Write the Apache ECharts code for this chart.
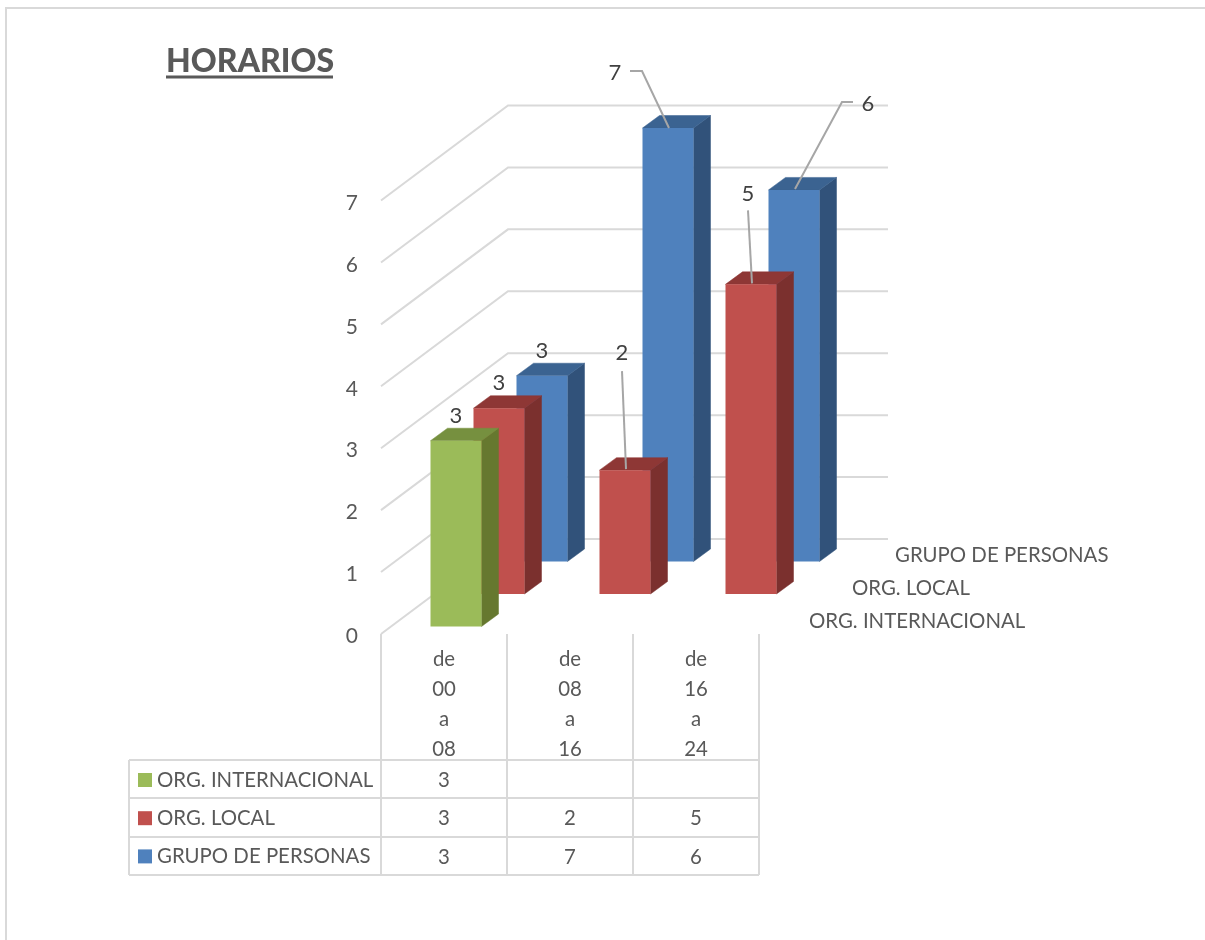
<!DOCTYPE html>
<html>
<head>
<meta charset="utf-8">
<title>HORARIOS</title>
<script src="https://cdn.jsdelivr.net/npm/echarts@6/dist/echarts.min.js"></script>
<style>
  html, body { margin: 0; padding: 0; background: #fff; }
  #main { width: 1205px; height: 940px; }
</style>
</head>
<body>
<div id="main"></div>
<script>
const categories = ['de\n00\na\n08', 'de\n08\na\n16', 'de\n16\na\n24'];
const seriesNames = ['ORG. INTERNACIONAL', 'ORG. LOCAL', 'GRUPO DE PERSONAS'];
const orgInternacional = [3, null, null];
const orgLocal = [3, 2, 5];
const grupoPersonas = [3, 7, 6];
const yTicks = [0, 1, 2, 3, 4, 5, 6, 7];

// colores de cada serie: frente, lateral, tapa
const palette = [
  { front: '#9BBB59', side: '#66782F', top: '#76903F' },
  { front: '#C0504D', side: '#7B302E', top: '#8E3735' },
  { front: '#4F81BD', side: '#31527A', top: '#3B6391' }
];

const FONT = 'Lato, "Open Sans", sans-serif';
const TEXT_SIZE = 20.4;
const GRID = { left: 381, top: 200.5, width: 378, height: 433.5 };
const BAND = GRID.width / categories.length;
// proyeccion 3D: desplazamiento por fila de profundidad
const DEPTH = { x0: 12, y0: -7.5, dx: 43, dy: -32.5 };
const WALL = { dx: 127, dy: -95, right: 888 };
const BOX = { width: 51, dx: 17, dy: -12.5 };

// etiquetas con linea guia, relativas al centro superior de la barra [serie_categoria]
const callouts = {
  '1_1': { label: [-3, -118], line: [[1, -1], [-3, -99]] },
  '1_2': { label: [-3, -91], line: [[1, -1], [-3, -74]] },
  '2_1': { label: [-53, -56], line: [[1, 0], [-26, -57], [-38, -57]] },
  '2_2': { label: [74, -87], line: [[1, -1], [48, -88], [59, -88]] }
};

function renderWall(params, api) {
  const v = api.value(0);
  const p = api.coord([0, v]);
  const x = p[0] - BAND / 2;
  return {
    type: 'polyline',
    silent: true,
    shape: { points: [[x, p[1]], [x + WALL.dx, p[1] + WALL.dy], [WALL.right, p[1] + WALL.dy]] },
    style: { stroke: '#D9D9D9', lineWidth: 2, fill: null }
  };
}

function makeBoxRenderer(depth) {
  const colors = palette[depth];
  return function (params, api) {
    const cat = api.value(0);
    const val = api.value(1);
    const offX = DEPTH.x0 + DEPTH.dx * depth;
    const offY = DEPTH.y0 + DEPTH.dy * depth;
    const top = api.coord([cat, val]);
    const base = api.coord([cat, 0]);
    const cx = top[0] + offX;
    const x0 = cx - BOX.width / 2;
    const x1 = cx + BOX.width / 2;
    const yTop = top[1] + offY;
    const yBase = base[1] + offY;
    const children = [
      { type: 'polygon', shape: { points: [[x1, yTop], [x1 + BOX.dx, yTop + BOX.dy], [x1 + BOX.dx, yBase + BOX.dy], [x1, yBase]] }, style: { fill: colors.side, stroke: colors.side, lineWidth: 0.5 } },
      { type: 'polygon', shape: { points: [[x0, yTop], [x0 + BOX.dx, yTop + BOX.dy], [x1 + BOX.dx, yTop + BOX.dy], [x1, yTop]] }, style: { fill: colors.top, stroke: colors.top, lineWidth: 0.5 } },
      { type: 'rect', shape: { x: x0, y: yTop, width: BOX.width, height: yBase - yTop }, style: { fill: colors.front } }
    ];
    const callout = callouts[depth + '_' + cat];
    const labelOff = callout ? callout.label : [0, -26];
    if (callout) {
      children.push({
        type: 'polyline',
        shape: { points: callout.line.map(function (q) { return [cx + q[0], yTop + q[1]]; }) },
        style: { stroke: '#A6A6A6', lineWidth: 2, fill: null }
      });
    }
    children.push({
      type: 'text',
      style: {
        text: String(val), x: cx + labelOff[0], y: yTop + labelOff[1] + 1,
        align: 'center', verticalAlign: 'middle',
        fill: '#404040', fontSize: 22, fontFamily: FONT
      }
    });
    return { type: 'group', children: children };
  };
}

function toPoints(values) {
  return values.map(function (v, i) { return [i, v]; }).filter(function (d) { return d[1] !== null; });
}

function boxSeries(depth, values) {
  return {
    name: seriesNames[depth],
    type: 'custom',
    renderItem: makeBoxRenderer(depth),
    encode: { x: 0, y: 1 },
    itemStyle: { color: palette[depth].front },
    data: toPoints(values)
  };
}

// tabla de datos y adornos
const tableRows = [orgInternacional, orgLocal, grupoPersonas];
const rowLines = [760, 798, 837, 875];
const colLines = [129, 381, 507, 633, 759];
const rowCenters = [780, 818, 857];
const graphics = [];

function line(x1, y1, x2, y2) {
  graphics.push({
    type: 'line', silent: true,
    shape: { x1: x1, y1: y1, x2: x2, y2: y2 },
    style: { stroke: '#D9D9D9', lineWidth: 2 }
  });
}
function text(str, x, y, align) {
  graphics.push({
    type: 'text', silent: true, x: x, y: y,
    style: { text: str, align: align, verticalAlign: 'middle', fill: '#595959', fontSize: TEXT_SIZE, fontFamily: FONT }
  });
}

line(5, 8, 1205, 8);
line(6, 8, 6, 940);
rowLines.forEach(function (y) { line(colLines[0], y, colLines[4], y); });
colLines.forEach(function (x) { line(x, rowLines[0], x, rowLines[3]); });
tableRows.forEach(function (row, r) {
  row.forEach(function (v, c) {
    if (v !== null) text(String(v), GRID.left + BAND * (c + 0.5), rowCenters[r], 'center');
  });
});
seriesNames.forEach(function (name, d) {
  text(name, 809 + 43 * d, 621.5 - 33 * d, 'left');
});
// subrayado del titulo
graphics.push({ type: 'rect', silent: true, shape: { x: 166, y: 75.5, width: 167, height: 3 }, style: { fill: '#595959' } });

const chart = echarts.init(document.getElementById('main'));
chart.setOption({
  animation: false,
  backgroundColor: '#fff',
  title: {
    text: 'HORARIOS', left: 166, top: 46, padding: 0,
    textStyle: { color: '#595959', fontSize: 32, fontWeight: 900, fontFamily: FONT }
  },
  legend: {
    orient: 'vertical', left: 138, top: 770, padding: 0,
    itemWidth: 14, itemHeight: 14, itemGap: 18.2,
    icon: 'rect', selectedMode: false,
    data: seriesNames,
    textStyle: { color: '#595959', fontSize: TEXT_SIZE, fontFamily: FONT, lineHeight: 20, padding: 0 }
  },
  grid: GRID,
  xAxis: {
    type: 'category',
    data: categories,
    axisLine: { show: false },
    axisTick: { show: true, length: 126, lineStyle: { color: '#D9D9D9', width: 2 } },
    axisLabel: { color: '#595959', fontSize: TEXT_SIZE, fontFamily: FONT, lineHeight: 29.7, margin: 11, interval: 0 }
  },
  yAxis: {
    type: 'value', min: 0, max: 7, interval: 1,
    axisLine: { show: false },
    axisTick: { show: false },
    splitLine: { show: false },
    axisLabel: {
      margin: 23,
      formatter: '{t|{value}}',
      rich: { t: { color: '#595959', fontSize: 21, fontFamily: FONT, padding: [5, 0, 0, 0] } }
    }
  },
  graphic: graphics,
  series: [
    { type: 'custom', silent: true, renderItem: renderWall, encode: { y: 0 }, data: yTicks.map(function (v) { return [v]; }) },
    boxSeries(2, grupoPersonas),
    boxSeries(1, orgLocal),
    boxSeries(0, orgInternacional)
  ]
});
</script>
</body>
</html>
